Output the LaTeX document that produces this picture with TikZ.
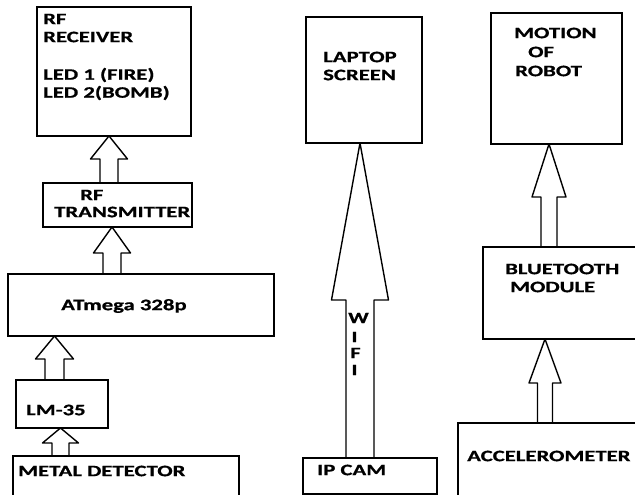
\documentclass[tikz,border=0pt]{standalone}
\usepackage{fontspec}
\setmainfont{Carlito}[BoldFeatures={FakeBold=0.6}]
\usetikzlibrary{calc}
\tikzset{
  box/.style={draw=black, line width=1.4pt, inner sep=0pt, outer sep=0pt, anchor=north west},
  arrowline/.style={draw=black, line width=1.4pt, line join=round},
  lbl/.style={anchor=west, inner sep=0pt, font=\fontsize{16}{18}\selectfont\bfseries},
  clbl/.style={anchor=center, inner sep=0pt, font=\fontsize{16}{18}\selectfont\bfseries},
}
\newcommand{\st}[1]{\scalebox{1.42}[1]{#1}}
% #1 tail anchor, #2 tip anchor, #3 x centre, #4 shaft half width, #5 head half width, #6 head length
\newcommand{\blockarrow}[6]{%
  \draw[arrowline] let \p1=(#1), \p2=(#2) in
    (#3pt-#4pt,\y1) -- (#3pt-#4pt,\y2-#6pt) -- (#3pt-#5pt,\y2-#6pt) -- (#3pt,\y2)
    -- (#3pt+#5pt,\y2-#6pt) -- (#3pt+#4pt,\y2-#6pt) -- (#3pt+#4pt,\y1);}
\begin{document}
\begin{tikzpicture}[x=1pt,y=-1pt]
\clip (0,0) rectangle (635,495);
\fill[white] (0,0) rectangle (635,495);
% boxes
\node[box, minimum width=154pt, minimum height=129pt] (rx) at (37,7) {};
\node[box, minimum width=149pt, minimum height=44pt] (tx) at (43,183) {};
\node[box, minimum width=266pt, minimum height=62pt] (atm) at (8,274) {};
\node[box, minimum width=92pt, minimum height=48pt] (lm) at (16,380) {};
\node[box, minimum width=226pt, minimum height=60pt] (md) at (13,456) {};
\node[box, minimum width=116pt, minimum height=126pt] (lap) at (306,17) {};
\node[box, minimum width=134pt, minimum height=36pt] (cam) at (303,458) {};
\node[box, minimum width=131pt, minimum height=131pt] (mot) at (491,13) {};
\node[box, minimum width=170pt, minimum height=92pt] (bt) at (483,247) {};
\node[box, minimum width=200pt, minimum height=90pt] (acc) at (458,423) {};
% arrows
\blockarrow{tx.north}{rx.south}{109}{9}{18.5}{23}
\blockarrow{atm.north}{tx.south}{112}{9}{18.5}{26}
\blockarrow{lm.north}{atm.south}{54.5}{9.5}{19}{23}
\blockarrow{md.north}{lm.south}{60.5}{8.5}{18}{15}
\blockarrow{cam.north}{lap.south}{360}{14}{28.5}{157}
\blockarrow{bt.north}{mot.south}{549}{8}{17}{53}
\blockarrow{acc.north}{bt.south}{545}{7.5}{16}{44}
% labels
\node[lbl] (l1) at (43,19) {\st{RF}};
\node[lbl] (l2) at (43,37) {\st{RECEIVER}};
\node[lbl] (l3) at (43,75) {\st{LED 1 (FIRE)}};
\node[lbl] (l4) at (43,93) {\st{LED 2(BOMB)}};
\node[lbl] (l5) at (80,195) {\st{RF}};
\node[lbl] (l6) at (54,212) {\st{TRANSMITTER}};
\node[lbl] (l7) at (61,306) {\st{ATmega 328p}};
\node[lbl] (l8) at (26,410) {\st{LM-35}};
\node[lbl] (l9) at (18,471) {\st{METAL DETECTOR}};
\node[lbl] (l10) at (323,57) {\st{LAPTOP}};
\node[lbl] (l11) at (323,75) {\st{SCREEN}};
\node[lbl] (l12) at (317,470) {\st{IP CAM}};
\node[lbl] (l13) at (514,33) {\st{MOTION}};
\node[lbl] (l14) at (528,52) {\st{OF}};
\node[lbl] (l15) at (515,71) {\st{ROBOT}};
\node[lbl] (l16) at (505,269) {\st{BLUETOOTH}};
\node[lbl] (l17) at (510,287) {\st{MODULE}};
\node[lbl] (l18) at (467,456) {\st{ACCELEROMETER}};
\node[clbl] (w1) at (358.5,318) {\st{W}};
\node[clbl] (w2) at (354.5,337) {\st{I}};
\node[clbl] (w3) at (355.5,353) {\st{F}};
\node[clbl] (w4) at (354.5,370) {\st{I}};
\end{tikzpicture}
\end{document}
